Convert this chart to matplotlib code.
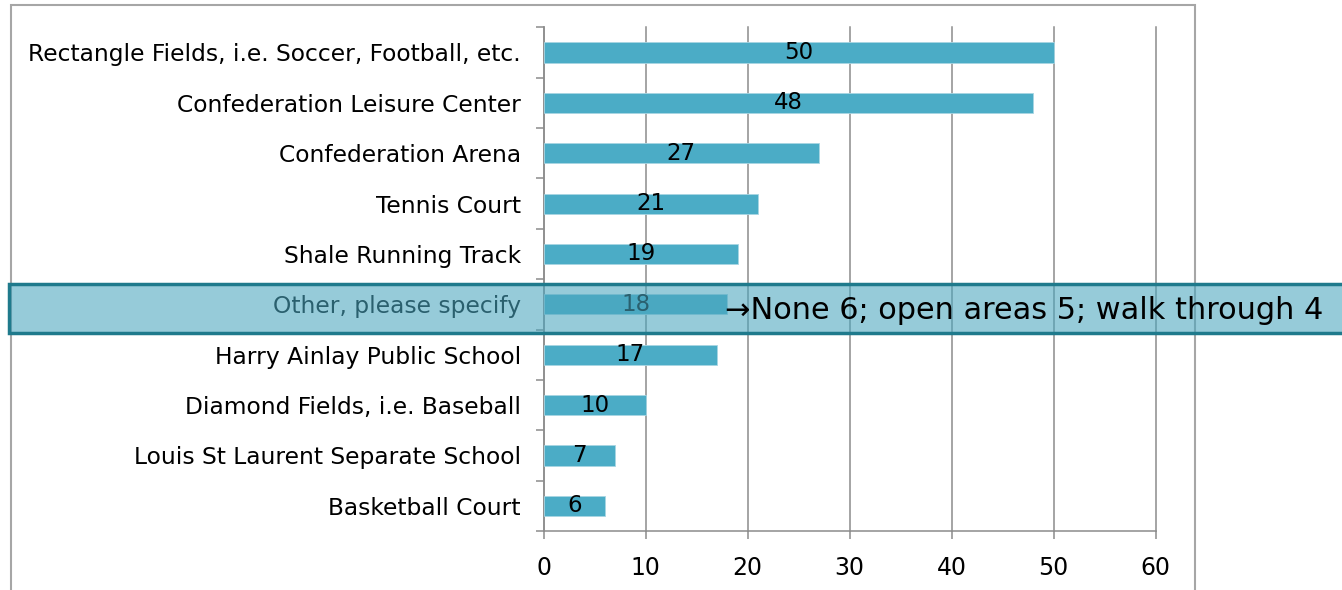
import matplotlib
matplotlib.use("Agg")
import matplotlib.pyplot as plt
import matplotlib.transforms as mtransforms
from matplotlib.patches import Rectangle

categories = [
    "Rectangle Fields, i.e. Soccer, Football, etc.",
    "Confederation Leisure Center",
    "Confederation Arena",
    "Tennis Court",
    "Shale Running Track",
    "Other, please specify",
    "Harry Ainlay Public School",
    "Diamond Fields, i.e. Baseball",
    "Louis St Laurent Separate School",
    "Basketball Court",
]
values = [50, 48, 27, 21, 19, 18, 17, 10, 7, 6]
x_ticks = [0, 10, 20, 30, 40, 50, 60]
highlight_category = "Other, please specify"
highlight_note = "\u2192None 6; open areas 5; walk through 4"

plt.rcParams['font.family'] = ['DejaVu Sans']

fig = plt.figure(figsize=(13.42, 5.9), dpi=100)
ax = fig.add_axes([543.7 / 1342, 1 - 531 / 590, (1155.7 - 543.7) / 1342, (531 - 27.3) / 590])

n = len(categories)
ypos = list(range(n))
bar_color = "#4BACC6"
ax.barh(ypos, values, height=0.4, color=bar_color, edgecolor="#A8D6E3", linewidth=0.6, zorder=3)
ax.set_ylim(n - 0.5, -0.5)
ax.set_xlim(0, 60)

grid_c = "#8C8C8C"
ax.set_xticks(x_ticks)
ax.set_xticklabels([str(t) for t in x_ticks], fontsize=17)
ax.xaxis.grid(True, color=grid_c, linewidth=1.1, zorder=0)
for gl in ax.get_xgridlines():
    gl.set_clip_on(False)
ax.set_axisbelow(True)

ax.set_yticks(ypos)
ax.set_yticklabels(categories, fontsize=16.8)
ax.set_yticks([i - 0.5 for i in range(n + 1)], minor=True)
ax.tick_params(axis='y', which='major', length=0, pad=16.5)
ax.tick_params(axis='y', which='minor', length=6, color=grid_c, width=1.1, direction='out')
ax.tick_params(axis='x', length=6, color=grid_c, width=1.1, direction='out', pad=12)

for s in ['top', 'right']:
    ax.spines[s].set_visible(False)
for s in ['left', 'bottom']:
    ax.spines[s].set_color(grid_c)
    ax.spines[s].set_linewidth(1.1)

for y, v in zip(ypos, values):
    ax.text(v / 2, y, str(v), ha='center', va='center', fontsize=16.5, color='black', zorder=4)

# outer chart frame
frame = Rectangle((11 / 1342, -0.05), (1195 - 11) / 1342, 1 - 5 / 590 + 0.05,
                  transform=fig.transFigure, fill=False, edgecolor="#A6A6A6", linewidth=1.5, zorder=-1)
fig.add_artist(frame)

# highlight box over the "Other" row
hi = categories.index(highlight_category)
trans = mtransforms.blended_transform_factory(fig.transFigure, ax.transData)
box = Rectangle((9 / 1342, hi - 0.41), 1.2, 0.97, transform=trans,
                facecolor=(0.29, 0.65, 0.75, 0.58), edgecolor="#1F7A8C", linewidth=2.5,
                zorder=10, clip_on=False)
fig.add_artist(box)
note = fig.text(0, 0, highlight_note, ha='left', va='center', fontsize=21.9,
                color='black', zorder=20)
note.set_transform(ax.transData)
note.set_position((values[hi] - 0.2, hi + 0.12))

fig.savefig("out.png", dpi=100)
